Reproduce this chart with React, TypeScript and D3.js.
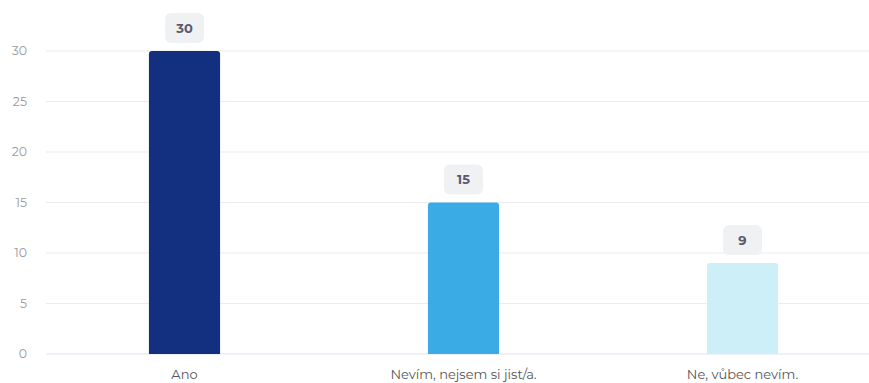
import React from "react";
import * as d3 from "d3";

const categories = ["Ano", "Nevím, nejsem si jist/a.", "Ne, vůbec nevím."];
const values = [30, 15, 9];
const colors = ["#12307f", "#3aabe4", "#cdf0f8"];
const yTicks = [0, 5, 10, 15, 20, 25, 30];

const W = 869;
const H = 383;

export default function App() {
  const x = d3.scaleBand<string>().domain(categories).range([45, 882]).padding(0);
  const y = d3.scaleLinear().domain([0, 30]).range([354, 51]);
  const barW = x.bandwidth() * 0.255;
  const r = 3;
  const font = "Montserrat, 'Open Sans', 'DejaVu Sans', sans-serif";

  return (
    <svg width={W} height={H} style={{ position: "absolute", left: 0, top: 0, display: "block" }} fontFamily={font}>
      <rect width={W} height={H} fill="#fff" />
      {yTicks.map((t) => (
        <g key={t}>
          <line x1={46} x2={W} y1={y(t)} y2={y(t)} stroke={t === 0 ? "#dde3f3" : "#ececec"} strokeWidth={1.2} />
          <text x={27} y={y(t)} dy="0.35em" textAnchor="end" fontSize={12.5} fill="#9a9a9a">
            {t}
          </text>
        </g>
      ))}
      {categories.map((c, i) => {
        const cx = (x(c) as number) + x.bandwidth() / 2;
        const x0 = cx - barW / 2;
        const y0 = y(values[i]);
        const y1 = y(0);
        const path = `M${x0},${y1} L${x0},${y0 + r} Q${x0},${y0} ${x0 + r},${y0} L${x0 + barW - r},${y0} Q${x0 + barW},${y0} ${x0 + barW},${y0 + r} L${x0 + barW},${y1} Z`;
        const boxW = 39;
        const boxH = 30;
        return (
          <g key={c}>
            <path d={path} fill={colors[i]} />
            <rect x={cx - boxW / 2} y={y0 - 8 - boxH} width={boxW} height={boxH} rx={6} fill="#f0f1f3" />
            <text x={cx} y={y0 - 8 - boxH / 2} dy="0.35em" textAnchor="middle" fontSize={13} fontWeight="bold" fill="#5b5a70">
              {values[i]}
            </text>
            <text x={cx} y={379} textAnchor="middle" fontSize={13} fill="#555">
              {c}
            </text>
          </g>
        );
      })}
    </svg>
  );
}
